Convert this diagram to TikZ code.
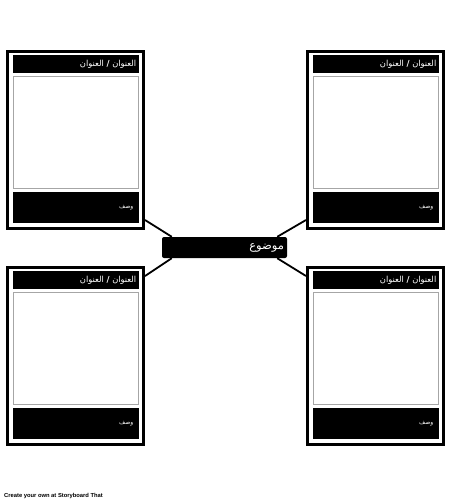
\documentclass[tikz,border=0pt]{standalone}
\usepackage{fontspec}
\setmainfont{Liberation Sans}
\newfontfamily\arabicfont[Script=Arabic]{DejaVu Sans}
\TeXXeTstate=1
\usetikzlibrary{positioning,backgrounds}

\begin{document}
\begin{tikzpicture}[
    x=1pt,y=-1pt,
    card/.style={draw,line width=3pt,minimum width=136pt,minimum height=177pt,inner sep=0pt},
    bar/.style={fill=black,minimum width=126pt,inner sep=0pt,outer sep=0pt},
    titlebar/.style={bar,minimum height=18pt},
    descbar/.style={bar,minimum height=31pt},
    frame/.style={draw=black!35,line width=0.8pt,minimum width=125pt,minimum height=112pt,inner sep=0pt,outer sep=0pt},
    heading/.style={text=white,font=\arabicfont\fontsize{8.3}{9}\selectfont,anchor=east,inner sep=1pt},
    caption/.style={text=white,font=\arabicfont\fontsize{6}{7}\selectfont,anchor=east,inner sep=1pt},
    topic/.style={fill=black,rounded corners=2pt,minimum width=125pt,minimum height=21pt,inner sep=0pt},
    link/.style={line width=1.8pt}
]
\useasboundingbox (0,0) rectangle (450,503);

% Four story cards
\foreach \n/\x/\y in {TL/75.5/140,TR/375.5/140,BL/75.5/356,BR/375.5/356}{
    \node[card] (card\n) at (\x,\y) {};
    \node[titlebar,below=5pt of card\n.north] (title\n) {};
    \node[frame,below=3pt of title\n] (frame\n) {};
    \node[descbar,below=4pt of frame\n] (desc\n) {};
    \node[heading] (head\n) at ([xshift=-1pt]title\n.east) {\beginR العنوان \textbf{/} العنوان\endR};
    \node[caption] (note\n) at ([xshift=-4pt]desc\n.east) {\beginR وصف\endR};
}

% Central topic
\node[topic] (topic) at (224.5,247.5) {};
\node[text=white,font=\arabicfont\fontsize{11.5}{12}\selectfont,anchor=east,inner sep=1pt] (topictext) at ([xshift=-2pt]topic.east) {\beginR موضوع\endR};

% Connectors
\begin{scope}[on background layer]
\draw[link] ([yshift=10pt]cardTL.south east) -- ([xshift=10pt]topic.north west);
\draw[link] ([yshift=-10pt]cardBL.north east) -- ([xshift=10pt]topic.south west);
\draw[link] ([yshift=10pt]cardTR.south west) -- ([xshift=-10pt]topic.north east);
\draw[link] ([yshift=-10pt]cardBR.north west) -- ([xshift=-10pt]topic.south east);
\end{scope}

% Footer
\node[anchor=west,font=\bfseries\fontsize{5.8}{7}\selectfont,inner sep=0pt] (credit) at (4,496) {Create your own at Storyboard That};

\end{tikzpicture}
\end{document}
